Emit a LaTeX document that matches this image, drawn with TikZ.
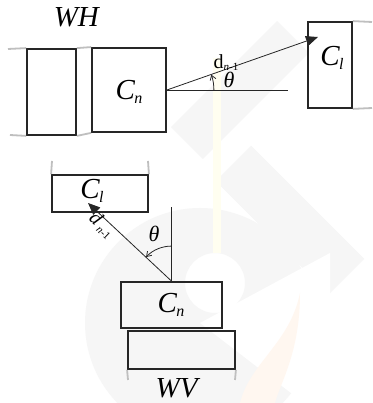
\documentclass[tikz,border=0pt]{standalone}
\usepackage{fontspec}
\setmainfont{Liberation Serif}
\usetikzlibrary{arrows.meta,calc}

% italic letter with a lowered italic subscript
\newcommand\withsub[3][16]{\textit{#2}\kern-1pt\raisebox{-3.5pt}{\fontsize{#1}{#1}\selectfont\textit{#3}}}

\tikzset{
  box/.style={draw=black!85, line width=1.8pt, inner sep=0pt},
  guide/.style={draw=black!25, line width=1.8pt},
  thin/.style={draw=black!85, line width=0.8pt},
  big/.style={font=\fontsize{29}{29}\selectfont, inner sep=0pt},
  greek/.style={font=\fontsize{22}{22}\selectfont, inner sep=0pt},
  small/.style={font=\fontsize{20}{20}\selectfont, inner sep=0pt},
  tip/.style={-{Triangle[length=12pt,width=10pt]}},
  arcarrow/.style={-{Straight Barb[length=4.5pt,width=6pt]}},
  faint/.style={fill=black!3.5, draw=none},
}

\begin{document}
\begin{tikzpicture}[x=1pt,y=1pt]
\useasboundingbox (0,0) rectangle (372,403);
\fill[white] (0,0) rectangle (372,403);

% faint background mark
\begin{scope}
  \fill[faint, rotate around={45:(240,313)}] (165,290.5) rectangle (315,335.5);
  \fill[faint, rotate around={-45:(290,183)}] (210,158) rectangle (370,208);
  \fill[faint, even odd rule] (200,80) circle[radius=115pt] (215,120) circle[radius=30pt];
  \fill[white] (200,80) -- (330,150) -- (330,-20) -- cycle;
  \fill[yellow!6] (213,150) rectangle (221,345);
  \fill[orange!6] (240,0) .. controls (250,40) and (290,60) .. (300,110)
                  .. controls (300,50) and (280,20) .. (275,0) -- cycle;
\end{scope}

% ---------- horizontal plan (WH) ----------
\node[big] (wh) at (77,386) {\textit{WH}};

\coordinate (gl1) at (8,354);
\coordinate (gl2) at (10,268);
\coordinate (gr1) at (372,381);
\coordinate (gr2) at (372,295);

\node[box, minimum width=49pt, minimum height=86pt] (wl) at (51.5,311) {};
\node[box, minimum width=74pt, minimum height=84pt] (cn) at (129,313) {};
\node[box, minimum width=44pt, minimum height=86pt] (cl) at (330,338) {};

\draw[guide] (gl1) -- (wl.north west);
\draw[guide] (wl.north east) -- (cn.north west);
\draw[guide] (gl2) -- (wl.south west);
\draw[guide] (wl.south east) -- (cn.south west);
\draw[guide] (cl.north east) -- (gr1);
\draw[guide] (cl.south east) -- (gr2);

\node[big] (cnl) at (129,311) {\withsub{C}{n}};
\node[big] (cll) at (332,345) {\withsub{C}{l}};

\coordinate (hend) at (288,313);
\coordinate (htip) at (318,366);
\draw[thin] (cn.east) -- (hend);
\draw[thin, tip] (cn.east) -- (htip);
\draw[thin, arcarrow] ($(cn.east)+(47,0)$) arc[start angle=0, end angle=19, radius=47pt];

\node[greek] (th1) at (229,323) {\textit{θ}};
\node[small] (d1) at (226,340) {d\raisebox{-2pt}{\fontsize{11}{11}\selectfont\textit{n}-1}};

% ---------- vertical plan (WV) ----------
\node[box, minimum width=96pt, minimum height=37pt] (cl2) at (100,209.5) {};
\node[box, minimum width=101pt, minimum height=46pt] (cn2) at (171.5,98) {};
\node[box, minimum width=107pt, minimum height=38pt] (wv) at (181.5,53) {};

\coordinate (gt1) at (52,242);
\coordinate (gt2) at (148,242);
\coordinate (gb1) at (128,23);
\coordinate (gb2) at (235,23);
\draw[guide] (cl2.north west) -- (gt1);
\draw[guide] (cl2.north east) -- (gt2);
\draw[guide] (wv.south west) -- (gb1);
\draw[guide] (wv.south east) -- (gb2);

\node[big] (cl2l) at (92,212) {\withsub{C}{l}};
\node[big] (cn2l) at (171,98) {\withsub{C}{n}};
\node[big] (wvl) at (178,15) {\textit{WV}};

\coordinate (vtop) at (171.5,196);
\coordinate (vtip) at (88,200);
\draw[thin] (cn2.north) -- (vtop);
\draw[thin, tip] (cn2.north) -- (vtip);
\draw[thin, arcarrow] ($(cn2.north)+(0,35)$) arc[start angle=90, end angle=136.6, radius=35pt];

\node[greek] (th2) at (154,169) {\textit{θ}};
\node[small, rotate=-43.5] (d2) at (102,178) {\textit{d}\,\raisebox{-3pt}{\fontsize{11}{11}\selectfont\textit{n}-1}};
\end{tikzpicture}
\end{document}
